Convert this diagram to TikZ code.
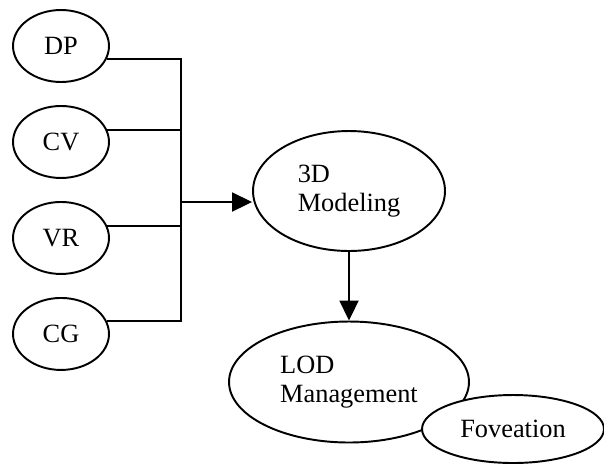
\documentclass[tikz,border=0pt]{standalone}
\usepackage{fontspec}
\setmainfont{Liberation Serif}
\usetikzlibrary{arrows.meta,shapes.geometric}

\begin{document}
\begin{tikzpicture}[x=0.02cm,y=-0.02cm,line width=1.1pt,node distance=1.92cm,
                    font=\fontsize{15}{16.5}\selectfont,
                    src node/.style={ellipse,draw,inner sep=0pt,minimum width=1.92cm,minimum height=1.44cm},
                    main node/.style={ellipse,draw,fill=white,inner sep=0pt,align=left},
                    arr/.style={-{Triangle[length=0.4cm,width=0.38cm]}}]
\useasboundingbox (0,0) rectangle (604,464);
\node[src node] (dp) at (61,46) {DP};
\node[src node] (cv) [below of=dp] {CV};
\node[src node] (vr) [below of=cv] {VR};
\node[src node] (cg) [below of=vr] {CG};

\node[main node,minimum width=3.84cm,minimum height=2.4cm] (model) at (349,191) {3D\\Modeling};
\node[main node,minimum width=4.8cm,minimum height=2.42cm] (lod) at (349,382) {LOD\\Management};
\node[main node,minimum width=3.64cm,minimum height=1.36cm] (fov) at (513,429) {Foveation};

\coordinate (bus) at (181,202);

\draw (dp.-16) -| (bus) |- (cg.16);
\draw (cv.15) -- (cv.15 -| bus);
\draw (vr.15) -- (vr.15 -| bus);
\draw[arr] (bus) -- (bus -| model.west);
\draw[arr] (model) -- (lod);
\end{tikzpicture}
\end{document}
